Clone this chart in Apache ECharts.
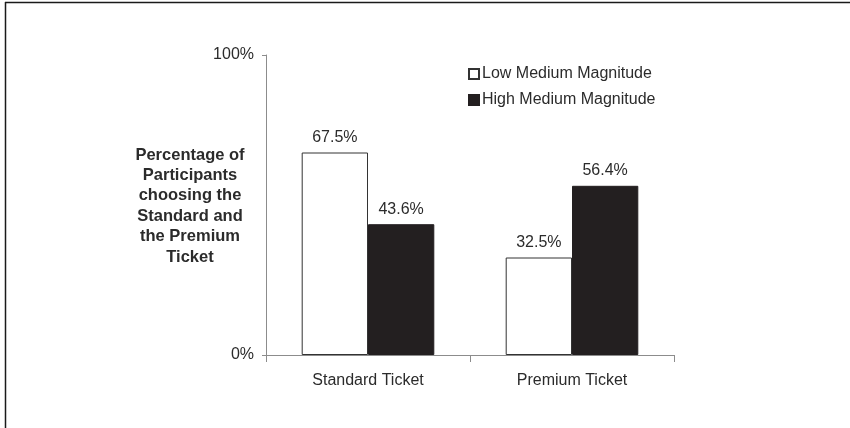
<!DOCTYPE html>
<html>
<head>
<meta charset="utf-8">
<script src="https://cdn.jsdelivr.net/npm/echarts@6/dist/echarts.min.js"></script>
<style>
  html, body { margin: 0; padding: 0; background: #fff; }
  #chart { width: 850px; height: 428px; }
</style>
</head>
<body>
<div id="chart"></div>
<script>
// Ticket choice by medium magnitude (percent of participants)
const categories = ['Standard Ticket', 'Premium Ticket'];
const lowMedium = [67.5, 32.5];
const highMedium = [43.6, 56.4];
const seriesNames = ['Low Medium Magnitude', 'High Medium Magnitude'];
const yAxisTitle = 'Percentage of\nParticipants\nchoosing the\nStandard and\nthe Premium\nTicket';

const FONT = '"Liberation Sans", Arial, sans-serif';
const TEXT = '#2b2b2b';
const AXIS = '#8c8c8c';
const FS = 16;

const chart = echarts.init(document.getElementById('chart'), null, { renderer: 'canvas' });

const labelStyle = {
  show: true,
  position: 'top',
  distance: 7,
  formatter: p => p.value.toFixed(1) + '%',
  fontFamily: FONT,
  fontSize: FS,
  color: TEXT
};

chart.setOption({
  animation: false,
  backgroundColor: '#fff',
  textStyle: { fontFamily: FONT },
  grid: { left: 266, right: 176, top: 55, bottom: 73, containLabel: false },
  legend: {
    orient: 'vertical',
    left: 463,
    top: 61,
    itemWidth: 10,
    itemHeight: 10,
    itemGap: 10,
    icon: 'rect',
    textStyle: { fontFamily: FONT, fontSize: FS, color: TEXT, padding: [0, 0, 0, -2] },
    data: seriesNames
  },
  xAxis: {
    type: 'category',
    data: categories,
    axisLine: { lineStyle: { color: AXIS, width: 1 } },
    axisTick: { show: true, length: 7, alignWithLabel: false, lineStyle: { color: AXIS } },
    axisLabel: { fontFamily: FONT, fontSize: FS, color: TEXT, margin: 18 }
  },
  yAxis: {
    type: 'value',
    min: 0,
    max: 100,
    interval: 100,
    splitLine: { show: false },
    axisLine: { show: true, lineStyle: { color: AXIS, width: 1 } },
    axisTick: { show: true, length: 4, lineStyle: { color: AXIS } },
    axisLabel: {
      fontFamily: FONT, fontSize: FS, color: TEXT, margin: 12,
      formatter: v => v + '%'
    }
  },
  series: [
    {
      name: seriesNames[0],
      type: 'bar',
      data: lowMedium,
      barGap: '0%',
      barCategoryGap: '35%',
      itemStyle: { color: '#ffffff', borderColor: '#333333', borderWidth: 1 },
      label: labelStyle
    },
    {
      name: seriesNames[1],
      type: 'bar',
      data: highMedium,
      itemStyle: { color: '#231f20', borderColor: '#231f20', borderWidth: 1 },
      label: labelStyle
    }
  ],
  graphic: [
    // value axis title, set to the left of the plot
    {
      type: 'text',
      x: 190,
      y: 206,
      style: {
        text: yAxisTitle,
        fontFamily: FONT,
        fontSize: 16.5,
        fontWeight: 'bold',
        fill: TEXT,
        lineHeight: 20.4,
        align: 'center',
        verticalAlign: 'middle'
      }
    },
    // frame lines along the top and left edges
    { type: 'line', shape: { x1: 5, y1: 2.5, x2: 850, y2: 2.5 }, style: { stroke: '#1a1a1a', lineWidth: 1.5 } },
    { type: 'line', shape: { x1: 5.5, y1: 2, x2: 5.5, y2: 428 }, style: { stroke: '#1a1a1a', lineWidth: 1.5 } }
  ]
});
</script>
</body>
</html>
